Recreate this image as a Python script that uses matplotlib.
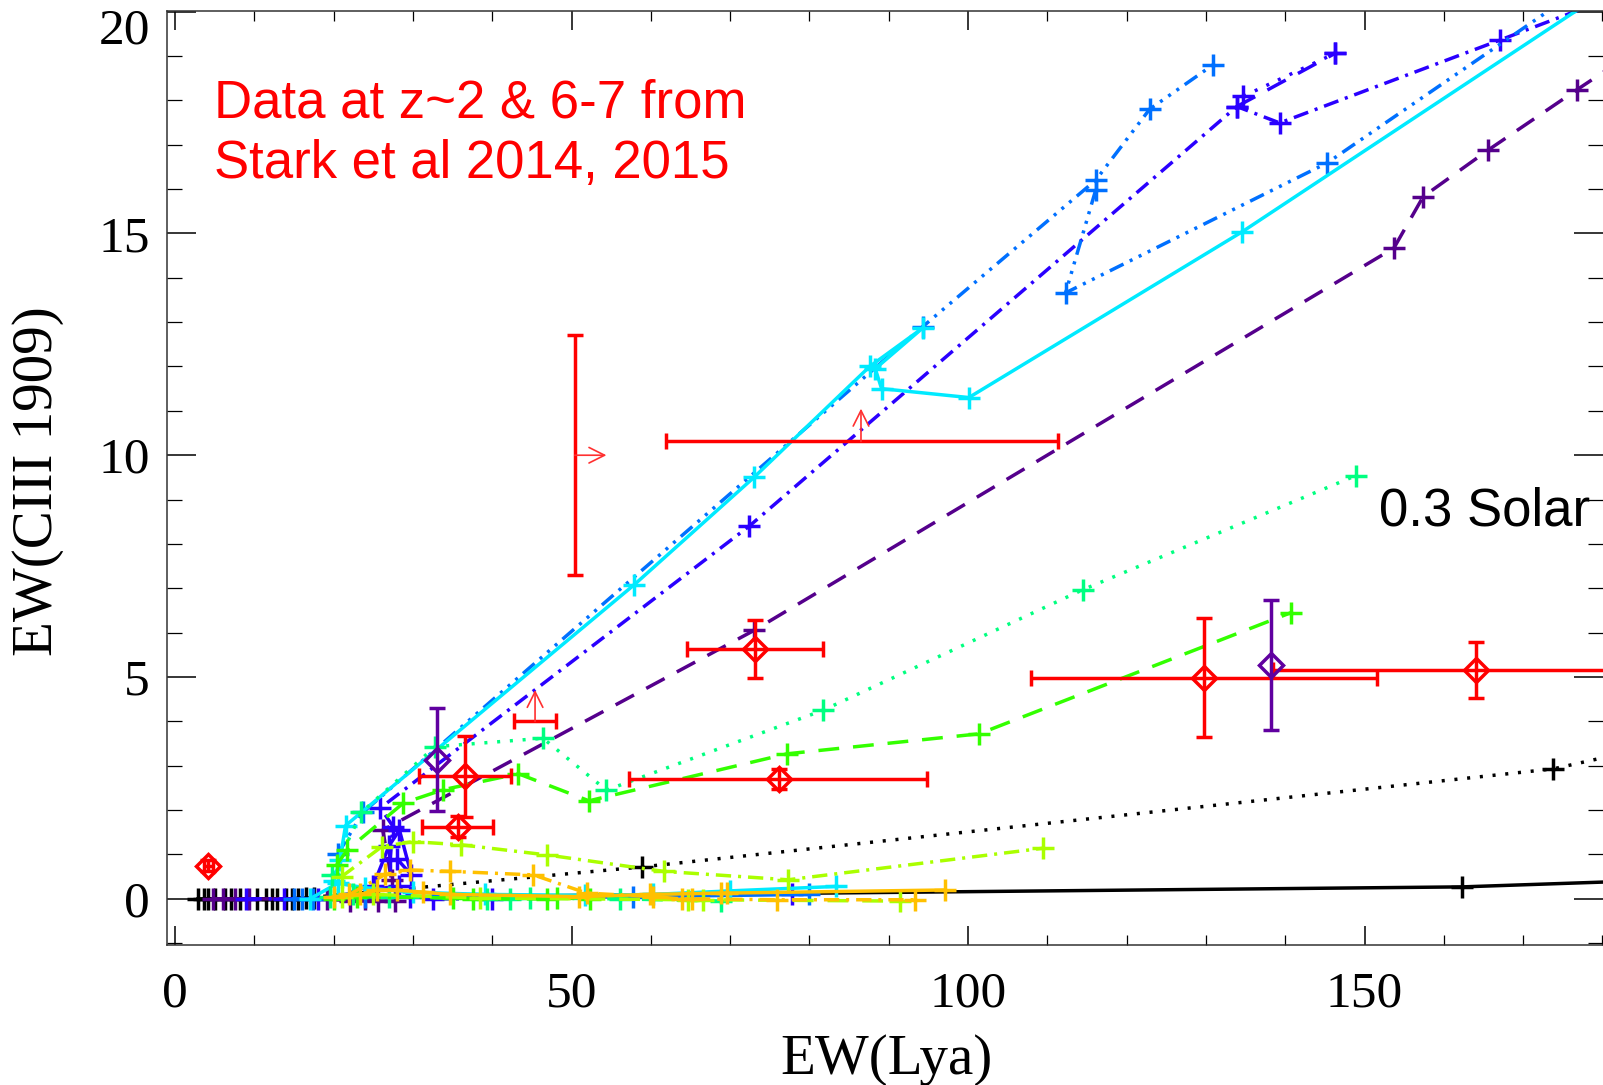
import matplotlib
matplotlib.use("Agg")
import matplotlib.pyplot as plt
from matplotlib.ticker import MultipleLocator, FuncFormatter

# ---- model tracks, EW(Lya) vs EW(CIII 1909) ----
black_solid_x = [2.9, 6.3, 10.3, 14.0, 17.5, 162.3, 200.0]
black_solid_y = [0.0, 0.0, 0.0, 0.0, 0.02, 0.27, 0.50]
black_dot_x = [4.2, 8.2, 12.2, 16.5, 58.9, 173.8, 200.0]
black_dot_y = [0.0, 0.0, 0.0, 0.02, 0.72, 2.93, 3.98]
black_low_x = [3.6, 5.0, 7.0, 11.5, 12.8, 14.8, 15.5]
black_low_y = [0.0, 0.0, 0.0, 0.0, 0.0, 0.0, 0.0]

purple_x = [24.0, 27.3, 26.2, 73.0, 153.7, 157.4, 165.6, 176.8, 200.0]
purple_y = [0.0, 0.43, 1.55, 6.05, 14.67, 15.83, 16.88, 18.24, 21.0]
purple_low_x = [4.8, 6.0, 7.5, 9.3, 19.2, 22.1, 25.6, 27.7]
purple_low_y = [0.0, 0.0, 0.0, 0.0, 0.0, -0.05, -0.05, -0.05]

blue_x = [27.1, 27.5, 25.9, 72.4, 133.9, 139.3, 167.1, 200.0]
blue_y = [0.88, 1.63, 2.05, 8.4, 17.86, 17.49, 19.36, 21.6]
blue_dot_x = [134.7, 146.3]
blue_dot_y = [18.09, 19.06]
blue_dash_x = [133.9, 146.3]
blue_dash_y = [17.86, 19.06]
blue_knot_x = [25.0, 27.0, 28.3, 29.8, 28.0]
blue_knot_y = [0.3, 1.2, 1.55, 0.54, 0.9]
blue_low_x = [9.0, 13.8, 18.0, 28.3, 29.6, 32.5, 40.0, 77.8]
blue_low_y = [0.0, 0.0, 0.0, 0.3, 0.05, 0.0, 0.0, 0.12]

azure_a_x = [20.5, 23.7, 94.3, 116.1, 122.9, 130.9]
azure_a_y = [1.0, 1.95, 12.9, 16.2, 17.8, 18.8]
azure_c_x = [116.1, 112.3, 145.3, 180.0]
azure_c_y = [15.98, 13.66, 16.59, 20.85]
azure_low_x = [15.0, 16.0, 17.4, 24.0, 57.8, 80.0]
azure_low_y = [0.0, 0.0, 0.0, 0.05, 0.05, 0.1]

cyan_x = [20.0, 20.8, 21.5, 57.9, 73.0, 87.6, 94.3, 88.3, 89.1, 100.1, 134.6, 185.0]
cyan_y = [0.4, 0.88, 1.65, 7.08, 9.5, 12.0, 12.87, 11.95, 11.5, 11.3, 15.04, 21.0]
cyan_low_x = [17.0, 20.5, 24.0, 30.0, 39.1, 51.7, 60.3, 70.0, 83.4]
cyan_low_y = [0.0, 0.35, 0.25, 0.15, 0.1, 0.08, 0.1, 0.18, 0.28]

spring_x = [19.8, 23.5, 32.8, 46.4, 54.4, 81.7, 114.5, 148.9]
spring_y = [0.54, 1.95, 3.43, 3.62, 2.45, 4.25, 6.97, 9.54]
spring_low_x = [19.5, 22.5, 27.0, 39.3, 42.2, 44.8, 56.1, 68.9]
spring_low_y = [0.05, 0.1, 0.05, 0.0, 0.0, 0.02, 0.0, -0.05]

green_x = [20.4, 21.7, 28.8, 33.8, 43.3, 52.2, 77.2, 101.4, 140.7]
green_y = [0.77, 1.1, 2.16, 2.46, 2.82, 2.21, 3.27, 3.72, 6.45]
green_low_x = [20.0, 23.0, 35.0, 37.6, 46.9, 48.2, 52.3]
green_low_y = [0.0, 0.05, 0.02, 0.0, 0.0, 0.02, 0.0]

lime_x = [21.0, 26.1, 30.0, 36.0, 46.9, 61.6, 77.3, 109.4]
lime_y = [0.5, 1.18, 1.29, 1.22, 0.99, 0.62, 0.43, 1.14]
lime_low_x = [21.0, 25.0, 38.5, 64.7, 66.6, 91.4]
lime_low_y = [0.05, 0.1, 0.02, -0.02, -0.02, -0.05]

gold_a_x = [22.0, 26.5, 29.6, 34.7, 45.2, 51.9, 60.3, 63.9, 65.2, 75.9, 93.3]
gold_a_y = [0.1, 0.55, 0.65, 0.62, 0.54, 0.13, 0.05, 0.0, 0.0, -0.02, -0.02]
gold_b_x = [20.0, 23.3, 25.5, 28.0, 31.3, 34.7, 51.0, 59.9, 68.9, 69.6, 97.1]
gold_b_y = [0.05, 0.1, 0.2, 0.2, 0.15, 0.1, 0.05, 0.1, 0.13, 0.13, 0.2]

# ---- Stark et al 2014, 2015 ----
stark_x = [4.2, 36.6, 35.7, 73.1, 76.2, 129.7, 164.0]
stark_y = [0.75, 2.76, 1.62, 5.63, 2.71, 4.97, 5.16]
stark_xlo = [3.7, 30.8, 31.1, 64.6, 57.2, 107.9, 138.5]
stark_xhi = [4.8, 42.4, 40.1, 81.7, 94.8, 151.6, 195.0]
stark_ylo = [0.62, 1.84, 1.40, 4.98, 2.48, 3.64, 4.52]
stark_yhi = [0.88, 3.66, 1.87, 6.28, 2.93, 6.33, 5.78]

other_x = [33.0, 138.2]
other_y = [3.13, 5.27]
other_ylo = [1.99, 3.81]
other_yhi = [4.30, 6.74]

# limits: vertical bar + arrow in x, horizontal bars + arrow in y
xlim_pt_x = [50.4]
xlim_pt_y = [10.0]
xlim_pt_ylo = [7.3]
xlim_pt_yhi = [12.7]
xlim_arrow_to = [54.4]

ylim_pt_x = [86.5, 45.4]
ylim_pt_y = [10.31, 4.0]
ylim_pt_xlo = [61.9, 42.7]
ylim_pt_xhi = [111.4, 48.1]
ylim_arrow_to = [11.05, 4.71]

plt.rcParams['font.family'] = ['Liberation Serif', 'DejaVu Serif']
plt.rcParams['lines.scale_dashes'] = False

DOT = (0, (2.2, 7))
DASH = (0, (15, 10))
DASHDOT = (0, (11, 5, 2.2, 5))
DASH3DOT = (0, (11, 5, 2.2, 5, 2.2, 5, 2.2, 5))

C_BLACK = 'black'
C_PURPLE = '#55008c'
C_BLUE = '#2a00ff'
C_AZURE = '#0070ff'
C_CYAN = '#00eaff'
C_SPRING = '#00ff80'
C_GREEN = '#33ff00'
C_LIME = '#aaff00'
C_GOLD = '#ffc000'
LW = 2.5

fig = plt.figure(figsize=(16.03, 10.85), dpi=100)
ax = fig.add_axes([166.7 / 1603, 140 / 1085, 1436.3 / 1603, 934.3 / 1085])


def track(x, y, color, ls, z=2):
    ax.plot(x, y, color=color, ls=ls, lw=LW, marker='+', ms=16, mew=LW,
            zorder=z)


track(black_solid_x, black_solid_y, C_BLACK, '-')
track(black_dot_x, black_dot_y, C_BLACK, DOT)
track(black_low_x, black_low_y, C_BLACK, 'none')
track(purple_low_x, purple_low_y, C_PURPLE, '-')
track(purple_x, purple_y, C_PURPLE, DASH)
track(blue_low_x, blue_low_y, C_BLUE, DASHDOT)
track(blue_knot_x, blue_knot_y, C_BLUE, '-')
track(blue_x, blue_y, C_BLUE, DASHDOT)
track(blue_dot_x, blue_dot_y, C_BLUE, DOT)
track(blue_dash_x, blue_dash_y, C_BLUE, DASH)
track(azure_low_x, azure_low_y, C_AZURE, '-')
track(azure_a_x, azure_a_y, C_AZURE, DASH3DOT)
track(azure_c_x, azure_c_y, C_AZURE, DASH3DOT)
track(cyan_low_x, cyan_low_y, C_CYAN, '-')
track(cyan_x, cyan_y, C_CYAN, '-')
track(spring_low_x, spring_low_y, C_SPRING, DASH)
track(spring_x, spring_y, C_SPRING, DOT)
track(green_low_x, green_low_y, C_GREEN, DASHDOT)
track(green_x, green_y, C_GREEN, DASH)
track(lime_low_x, lime_low_y, C_LIME, DASH)
track(lime_x, lime_y, C_LIME, DASHDOT)
track(gold_b_x, gold_b_y, C_GOLD, '-')
track(gold_a_x, gold_a_y, C_GOLD, DASHDOT)

# observations
err_kw = dict(ecolor='red', elinewidth=LW, capsize=6, capthick=LW, zorder=6)
xe = [[x - lo for x, lo in zip(stark_x, stark_xlo)],
      [hi - x for x, hi in zip(stark_x, stark_xhi)]]
ye = [[y - lo for y, lo in zip(stark_y, stark_ylo)],
      [hi - y for y, hi in zip(stark_y, stark_yhi)]]
ax.errorbar(stark_x, stark_y, xerr=xe, yerr=ye, fmt='D', ms=12, mfc='none',
            mec='red', mew=LW, **err_kw)

ye = [[y - lo for y, lo in zip(other_y, other_ylo)],
      [hi - y for y, hi in zip(other_y, other_yhi)]]
ax.errorbar(other_x, other_y, yerr=ye, fmt='D', ms=12, mfc='none',
            mec='#6000a0', mew=LW, ecolor='#6000a0', elinewidth=LW,
            capsize=6, capthick=LW, zorder=6)

ye = [[y - lo for y, lo in zip(xlim_pt_y, xlim_pt_ylo)],
      [hi - y for y, hi in zip(xlim_pt_y, xlim_pt_yhi)]]
ax.errorbar(xlim_pt_x, xlim_pt_y, yerr=ye, fmt='none', **err_kw)
for x, y, x2 in zip(xlim_pt_x, xlim_pt_y, xlim_arrow_to):
    ax.annotate('', xy=(x2, y), xytext=(x, y), zorder=6,
                arrowprops=dict(arrowstyle='->', color='#ff3030', lw=1.2,
                                mutation_scale=28, shrinkA=0, shrinkB=0))

xe = [[x - lo for x, lo in zip(ylim_pt_x, ylim_pt_xlo)],
      [hi - x for x, hi in zip(ylim_pt_x, ylim_pt_xhi)]]
ax.errorbar(ylim_pt_x, ylim_pt_y, xerr=xe, fmt='none', **err_kw)
for x, y, y2 in zip(ylim_pt_x, ylim_pt_y, ylim_arrow_to):
    ax.annotate('', xy=(x, y2), xytext=(x, y), zorder=6,
                arrowprops=dict(arrowstyle='->', color='#ff3030', lw=1.2,
                                mutation_scale=28, shrinkA=0, shrinkB=0))

ax.set_xlim(-1.05, 180.07)
ax.set_ylim(-1.04, 20.02)
ax.xaxis.set_major_locator(MultipleLocator(50))
ax.xaxis.set_minor_locator(MultipleLocator(10))
ax.yaxis.set_major_locator(MultipleLocator(5))
ax.yaxis.set_minor_locator(MultipleLocator(1))
# the top label "20" is drawn separately, shifted down like the original
ax.yaxis.set_major_formatter(FuncFormatter(lambda v, p: '' if v > 19.5 else f'{v:g}'))
ax.tick_params(which='both', direction='in', top=True, right=True,
               labelsize=37, colors='black')
ax.tick_params(axis='x', which='major', length=14, width=1.1, pad=19)
ax.tick_params(axis='x', which='minor', length=7, width=0.9)
ax.tick_params(axis='y', which='major', length=21, width=1.1, pad=12)
ax.tick_params(axis='y', which='minor', length=10.5, width=0.9)
for side in ['left', 'top', 'bottom']:
    ax.spines[side].set_linewidth(1.1)
    ax.spines[side].set_color('#333333')
ax.spines['right'].set_visible(False)

fig.text(150 / 1603, 1 - 43 / 1085, '20', fontsize=37, ha='right',
         va='baseline')
fig.text(886 / 1603, 1 - 1074 / 1085, 'EW(Lya)', fontsize=41,
         ha='center', va='baseline')
fig.text(38 / 1603, 1 - 481 / 1085, 'EW(CIII 1909)', fontsize=41,
         ha='center', va='center', rotation=90)

sans = ['Liberation Sans', 'DejaVu Sans']
fig.text(214 / 1603, 1 - 117 / 1085, 'Data at z~2 & 6-7 from', color='red',
         fontsize=38, family=sans, va='baseline')
fig.text(214 / 1603, 1 - 178 / 1085, 'Stark et al 2014, 2015', color='red',
         fontsize=38, family=sans, va='baseline')
fig.text(1379 / 1603, 1 - 526 / 1085, '0.3 Solar', color='black',
         fontsize=38, family=sans, va='baseline')

fig.savefig('out.png', dpi=100)
